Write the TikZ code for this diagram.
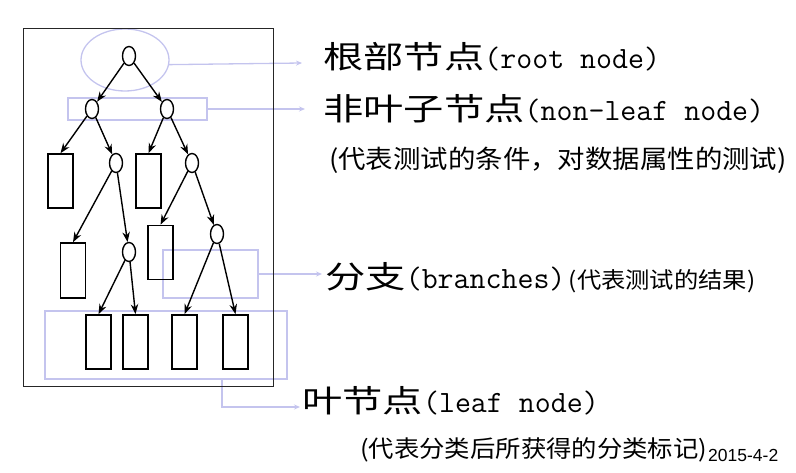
\documentclass[tikz,border=0pt]{standalone}
\usepackage{fontspec}
\usepackage{tikz}
\usetikzlibrary{arrows.meta, positioning, calc, shapes.geometric}
\newfontfamily\cjk[FakeStretch=1.3]{Noto Sans CJK SC}
\newfontfamily\cjknote[FakeStretch=1.08]{Noto Sans CJK SC}
\newfontfamily\datefont{Liberation Sans}
\definecolor{lav}{RGB}{196,196,238}

\begin{document}
\begin{tikzpicture}[
        x=1pt, y=-1pt,
        test/.style = {ellipse, draw, line width=1.4pt, minimum width=13pt, minimum height=19pt, inner sep=0pt},
        leaf/.style = {rectangle, draw, line width=1.6pt, minimum width=25pt, minimum height=54pt, inner sep=0pt},
        hilite/.style = {draw=lav, line width=1.3pt, inner sep=0pt},
        branchline/.style = {-{Stealth[length=10pt, width=7.5pt]}, line width=1.4pt},
        link/.style = {-{Stealth[length=6pt, width=5pt]}, draw=lav, line width=1.3pt},
        title/.style = {anchor=base west, inner sep=0pt, font=\fontsize{31}{34}\selectfont\ttfamily},
        note/.style = {anchor=base west, inner sep=0pt},
    ]
        \useasboundingbox (0,0) rectangle (796,473);

        % 淡紫色的标注框
        \node[hilite, ellipse, minimum width=88pt, minimum height=62pt] (rootring) at (125,60) {};
        \node[hilite, minimum width=139pt, minimum height=22pt] (nlbox) at (137.5,109) {};
        \node[hilite, minimum width=95pt, minimum height=48pt] (brbox) at (210.5,274) {};
        \node[hilite, minimum width=242pt, minimum height=68pt] (leafbox) at (166,345) {};

        \coordinate (rootend) at (302,63);
        \coordinate (nlend) at (305,109);
        \coordinate (brend) at (322,274);
        \coordinate (leafend) at (300,407);
        \draw [link] (rootring.-6) -- (rootend);
        \draw [link] (nlbox.east) -- (nlend);
        \draw [link] (brbox.east) -- (brend);
        \draw [link] ([xshift=56pt]leafbox.south) |- (leafend);

        % 外框
        \draw [line width=1pt, black!85] (23,29) rectangle (273,386);

        % 决策树
        \node[test] (R) at (129,56) {};
        \node[test] (A) at (92,109) {};
        \node[test] (B) at (167,109) {};
        \node[leaf] (L1) at (60.5,181) {};
        \node[test] (C) at (116,163) {};
        \node[leaf] (L2) at (148.5,181) {};
        \node[test] (D) at (192,163) {};
        \node[leaf, minimum height=55pt] (L3) at (73,270.5) {};
        \node[test] (E) at (129,252) {};
        \node[leaf] (L4) at (160.5,252.5) {};
        \node[test] (F) at (217,234) {};
        \node[leaf] (L5) at (98.5,342) {};
        \node[leaf] (L6) at (135.5,342) {};
        \node[leaf] (L7) at (184.5,342) {};
        \node[leaf] (L8) at (235.5,342) {};

        \foreach \a/\b in {R/A, R/B, A/C, B/D, C/E, D/F}
            \draw [branchline] (\a) -- (\b);
        \foreach \a/\b in {A/L1, B/L2, C/L3, D/L4, E/L5, E/L6, F/L7, F/L8}
            \draw [branchline] (\a) -- (\b.north);

        % 右侧说明文字
        \node[title] (roottxt) at (323,69) {{\cjk 根部节点}(root node)};
        \node[title] (nltxt) at (323,121) {{\cjk 非叶子节点}(non-leaf node)};
        \node[note, font=\cjknote\fontsize{25.4}{28}\selectfont] (nlnote) at (329,168.6) {(代表测试的条件，对数据属性的测试)};
        \node[title] (brtxt) at (325,289) {{\cjk 分支}(branches)};
        \node[note, font=\cjknote\fontsize{22.5}{26}\selectfont, xshift=3pt] (brnote) at (brtxt.base east) {(代表测试的结果)};
        \node[title] (leaftxt) at (302,413) {{\cjk 叶节点}(leaf node)};
        \node[note, font=\cjknote\fontsize{23.5}{27}\selectfont] (leafnote) at (360,457) {(代表分类后所获得的分类标记)};
        \node[note, font=\datefont\fontsize{17.5}{20}\selectfont] (datetxt) at (708,461) {2015-4-2};
    \end{tikzpicture}
\end{document}
